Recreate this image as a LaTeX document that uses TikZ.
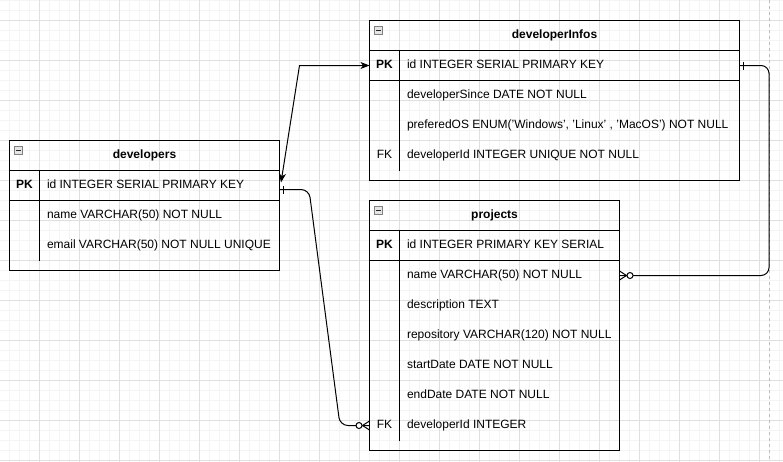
\documentclass[tikz,border=0pt]{standalone}
\usepackage{fontspec}
\setmainfont{Liberation Sans}
\usetikzlibrary{positioning,arrows.meta}
\definecolor{gridmajor}{HTML}{DFDFDF}
\definecolor{gridminor}{HTML}{F4F4F4}
\definecolor{pageline}{HTML}{BDBDBD}
\tikzset{
  erone/.pic={\draw (0,-4) -- (0,4);},
  ermany/.pic={\draw (0,-4.5) -- (-7,0) -- (0,4.5);
               \draw[fill=white] (-10.5,0) circle (3pt);}
}

\begin{document}
\fontsize{12}{14}\selectfont
\begin{tikzpicture}[x=1pt,y=-1pt,line width=1pt]
  \tikzstyle{tblhead}=[draw,minimum height=30pt,inner sep=0pt,outer sep=0pt,font=\bfseries]
  \tikzstyle{keycell}=[minimum width=30pt,minimum height=30pt,inner sep=0pt,outer sep=0pt,
                       text height=9pt,text depth=2.5pt]
  \tikzstyle{pkcell}=[keycell,font=\bfseries]
  \tikzstyle{field}=[inner sep=0pt,text height=9pt,text depth=2.5pt]
  \tikzstyle{minusbox}=[draw=gray,fill=gray!20,minimum size=8pt,inner sep=0pt,line width=0.6pt]
  \tikzstyle{relline}=[draw,line width=1pt,rounded corners=8pt]

  \useasboundingbox (0,0) rectangle (783,461);
  \coordinate (pageEdge) at (769,0);

  % background grid
  \begin{scope}
    \clip (0,0) rectangle (783,461);
    \draw[gridminor,step=10pt,xshift=-0.5pt] (-40,-40) grid (820,500);
    \draw[gridmajor,step=40pt,xshift=-0.5pt,yshift=-20pt] (-40,-40) grid (820,500);
    \draw[pageline,dash pattern=on 3pt off 3pt] (pageEdge) -- ++(0,461);
  \end{scope}

  % developers
  \node[tblhead,minimum width=270pt,anchor=north west] (dev) at (9.5,140.5) {developers};
  \node[pkcell,below right=0pt and 0pt of dev.south west] (devK1) {PK};
  \node[keycell,below=0pt of devK1] (devK2) {};
  \node[keycell,below=0pt of devK2] (devK3) {};
  \node[field,right=7pt of devK1] (devId) {id INTEGER SERIAL PRIMARY KEY};
  \node[field,right=7pt of devK2] (devName) {name VARCHAR(50) NOT NULL};
  \node[field,right=7pt of devK3] (devMail) {email VARCHAR(50) NOT NULL UNIQUE};
  \coordinate[below=9.5pt of devK3.south west] (devB);
  \draw (dev.north west) rectangle (devB -| dev.east);
  \draw (devK1.south west) -- (devK1.south west -| dev.east);
  \draw (devK1.north east) -- (devK3.south east);
  \node[minusbox,below right=5.5pt and 4.5pt of dev.north west] (devMin) {};
  \draw[line width=0.8pt,gray!30!black] ([xshift=2pt]devMin.west) -- ([xshift=-2pt]devMin.east);

  % developerInfos
  \node[tblhead,minimum width=370pt,anchor=north west] (info) at (369.5,20.5) {developerInfos};
  \node[pkcell,below right=0pt and 0pt of info.south west] (infoK1) {PK};
  \node[keycell,below=0pt of infoK1] (infoK2) {};
  \node[keycell,below=0pt of infoK2] (infoK3) {};
  \node[keycell,below=0pt of infoK3] (infoK4) {FK};
  \node[field,right=7pt of infoK1] (infoId) {id INTEGER SERIAL PRIMARY KEY};
  \node[field,right=7pt of infoK2] (infoSince) {developerSince DATE NOT NULL};
  \node[field,right=7pt of infoK3] (infoOS) {preferedOS ENUM('Windows', 'Linux' , 'MacOS') NOT NULL};
  \node[field,right=7pt of infoK4] (infoDev) {developerId INTEGER UNIQUE NOT NULL};
  \coordinate[below=9.5pt of infoK4.south west] (infoB);
  \draw (info.north west) rectangle (infoB -| info.east);
  \draw (infoK1.south west) -- (infoK1.south west -| info.east);
  \draw (infoK1.north east) -- (infoK4.south east);
  \node[minusbox,below right=5.5pt and 4.5pt of info.north west] (infoMin) {};
  \draw[line width=0.8pt,gray!30!black] ([xshift=2pt]infoMin.west) -- ([xshift=-2pt]infoMin.east);

  % projects
  \node[tblhead,minimum width=250pt,anchor=north west] (prj) at (369.5,200.5) {projects};
  \node[pkcell,below right=0pt and 0pt of prj.south west] (prjK1) {PK};
  \node[keycell,below=0pt of prjK1] (prjK2) {};
  \node[keycell,below=0pt of prjK2] (prjK3) {};
  \node[keycell,below=0pt of prjK3] (prjK4) {};
  \node[keycell,below=0pt of prjK4] (prjK5) {};
  \node[keycell,below=0pt of prjK5] (prjK6) {};
  \node[keycell,below=0pt of prjK6] (prjK7) {FK};
  \node[field,right=7pt of prjK1] (prjId) {id INTEGER PRIMARY KEY SERIAL};
  \node[field,right=7pt of prjK2] (prjName) {name VARCHAR(50) NOT NULL};
  \node[field,right=7pt of prjK3] (prjDesc) {description TEXT};
  \node[field,right=7pt of prjK4] (prjRepo) {repository VARCHAR(120) NOT NULL};
  \node[field,right=7pt of prjK5] (prjStart) {startDate DATE NOT NULL};
  \node[field,right=7pt of prjK6] (prjEnd) {endDate DATE NOT NULL};
  \node[field,right=7pt of prjK7] (prjDev) {developerId INTEGER};
  \coordinate[below=9.5pt of prjK7.south west] (prjB);
  \draw (prj.north west) rectangle (prjB -| prj.east);
  \draw (prjK1.south west) -- (prjK1.south west -| prj.east);
  \draw (prjK1.north east) -- (prjK7.south east);
  \node[minusbox,below right=5.5pt and 4.5pt of prj.north west] (prjMin) {};
  \draw[line width=0.8pt,gray!30!black] ([xshift=2pt]prjMin.west) -- ([xshift=-2pt]prjMin.east);

  % relations
  \coordinate (devR) at (dev.east |- devK1);
  \coordinate (infoR) at (info.east |- infoK1);
  \coordinate (prjR) at (prj.east |- prjK2);

  \draw[{Stealth[length=9pt,width=7pt,inset=2.5pt]}-{Stealth[length=9pt,width=7pt,inset=2.5pt]}]
    ([shift={(1.5,-3)}]devR) -- ([xshift=-70pt]infoK1.west) -- (infoK1.west);

  \draw[relline] ([shift={(0,4)}]devR) -- ++(29.5,0) -- ([xshift=-29.5pt]prjK7.west) -- (prjK7.west);
  \pic at ([shift={(3.5,4)}]devR) {erone};
  \pic at (prjK7.west) {ermany};

  \draw[relline] (infoR) -- (infoR -| pageEdge) -- (prjR -| pageEdge) -- (prjR);
  \pic at ([shift={(3.5,0)}]infoR) {erone};
  \pic[rotate=180] at (prjR) {ermany};
\end{tikzpicture}
\end{document}
